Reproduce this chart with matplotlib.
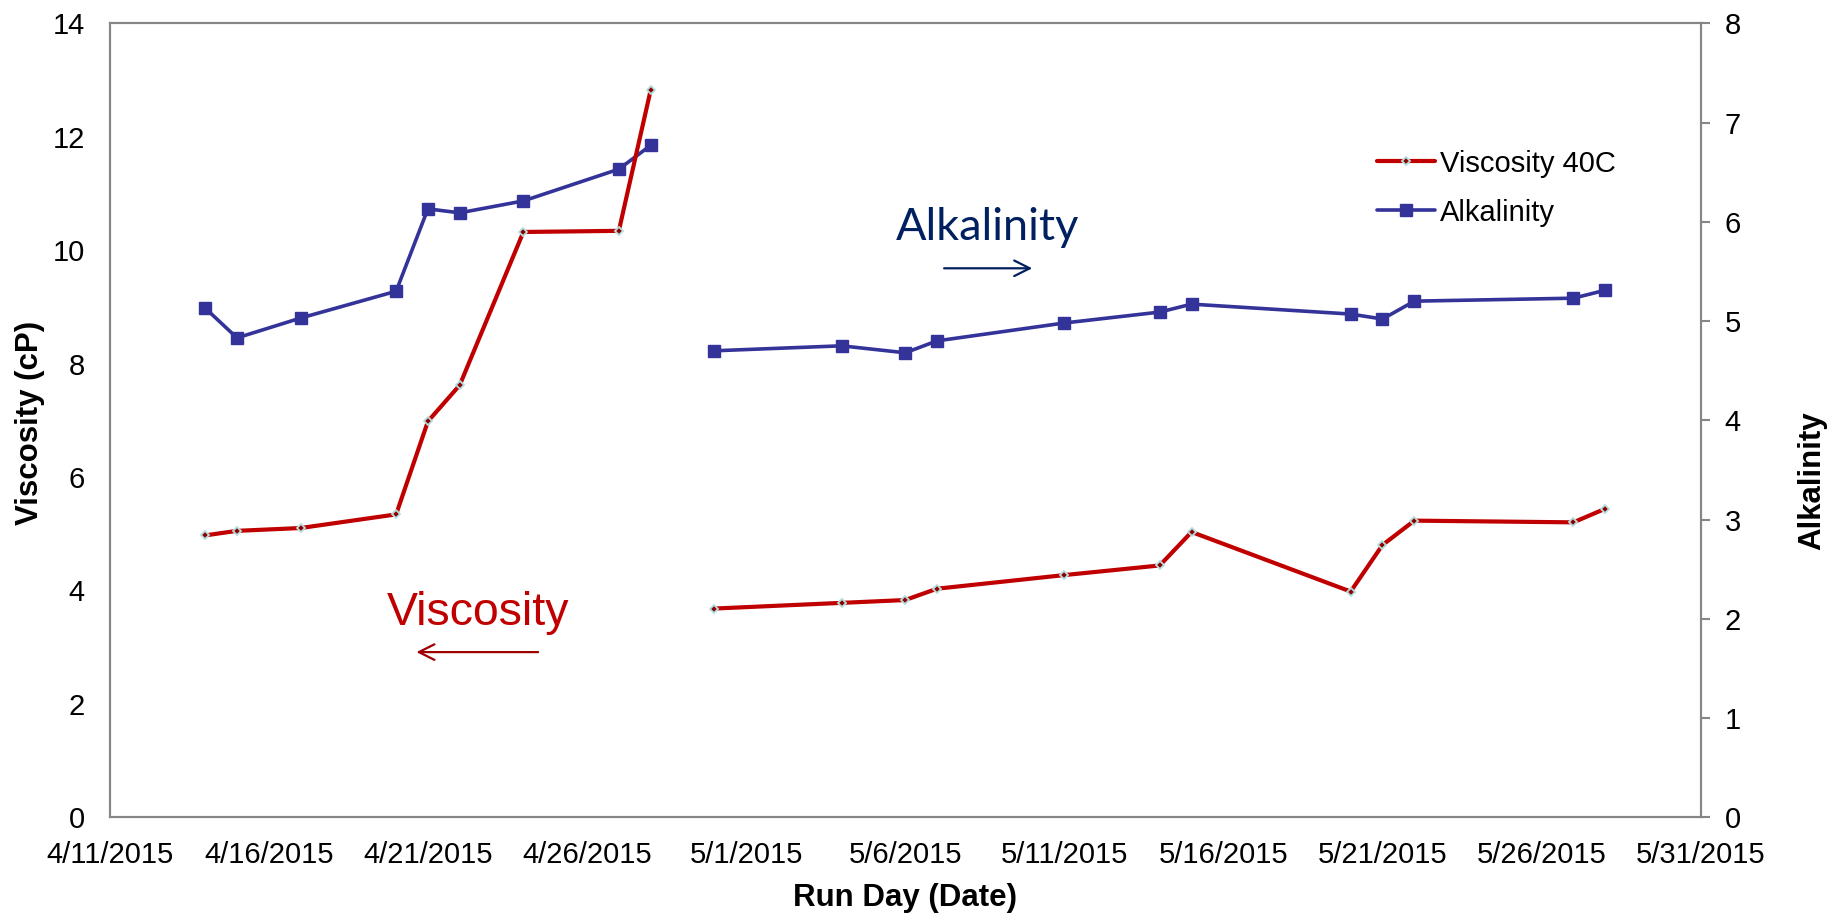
import numpy as np
import pandas as pd
import matplotlib
matplotlib.use("Agg")
import matplotlib.pyplot as plt

plt.rcParams['font.family'] = ['Liberation Sans', 'DejaVu Sans']

# run days (4/29 left empty so the lines break there)
run_days = ["2015-04-14", "2015-04-15", "2015-04-17", "2015-04-20", "2015-04-21",
            "2015-04-22", "2015-04-24", "2015-04-27", "2015-04-28", "2015-04-29",
            "2015-04-30", "2015-05-04", "2015-05-06", "2015-05-07", "2015-05-11",
            "2015-05-14", "2015-05-15", "2015-05-20", "2015-05-21", "2015-05-22",
            "2015-05-27", "2015-05-28"]
viscosity = [4.97, 5.05, 5.10, 5.34, 6.98, 7.62, 10.32, 10.34, 12.82, np.nan,
             3.68, 3.78, 3.83, 4.03, 4.27, 4.44, 5.03, 3.98, 4.80, 5.23, 5.20, 5.44]
alkalinity = [5.13, 4.83, 5.03, 5.30, 6.13, 6.09, 6.21, 6.53, 6.77, np.nan,
              4.70, 4.75, 4.68, 4.80, 4.98, 5.09, 5.17, 5.07, 5.02, 5.20, 5.23, 5.31]

tick_dates = ["2015-04-11", "2015-04-16", "2015-04-21", "2015-04-26", "2015-05-01",
              "2015-05-06", "2015-05-11", "2015-05-16", "2015-05-21", "2015-05-26",
              "2015-05-31"]
tick_labels = ["4/11/2015", "4/16/2015", "4/21/2015", "4/26/2015", "5/1/2015",
               "5/6/2015", "5/11/2015", "5/16/2015", "5/21/2015", "5/26/2015",
               "5/31/2015"]
visc_ticks = [0, 2, 4, 6, 8, 10, 12, 14]
alk_ticks = [0, 1, 2, 3, 4, 5, 6, 7, 8]

x = pd.to_datetime(run_days)
xt = pd.to_datetime(tick_dates)

RED = '#C00000'
BLUE = '#333399'
NAVY = '#002060'
GRAY = '#868686'

fig = plt.figure(figsize=(18.35, 9.16), dpi=100)
ax = fig.add_axes([0.0598, 0.1078, 0.867, 0.8668])
ax2 = ax.twinx()
# viscosity drawn on top of alkalinity
ax.set_zorder(ax2.get_zorder() + 1)
ax.patch.set_visible(False)

ax2.plot(x, alkalinity, color=BLUE, lw=2.6, marker='s', ms=8.5,
         mfc=BLUE, mec=BLUE, solid_capstyle='round', solid_joinstyle='round',
         label='Alkalinity')
ax.plot(x, viscosity, color=RED, lw=3.0, marker='D', ms=4.5,
        mfc='#8B0000', mec='#B5DDDD', mew=1.3, solid_capstyle='round',
        solid_joinstyle='round', label='Viscosity 40C')

ax.set_xlim(xt[0], xt[-1])
ax.set_ylim(0, 14)
ax2.set_ylim(0, 8)
ax.set_xticks(xt)
ax.set_xticklabels(tick_labels)
ax.set_yticks(visc_ticks)
ax2.set_yticks(alk_ticks)

for a in (ax, ax2):
    for s in a.spines.values():
        s.set_color(GRAY)
        s.set_linewidth(1.5)
ax.tick_params(axis='x', length=0, pad=17, labelsize=21)
ax.tick_params(axis='y', length=0, pad=18, labelsize=21)
ax2.tick_params(axis='y', length=6.3, width=1.5, color=GRAY, pad=11, labelsize=21)

ax.set_ylabel('Viscosity (cP)', fontsize=22.5, fontweight='bold')
ax.yaxis.set_label_coords(-0.0407, 0.496)
ax2.set_ylabel('Alkalinity', fontsize=22.5, fontweight='bold')
ax2.yaxis.set_label_coords(1.0608, 0.424)
ax.set_xlabel('Run Day (Date)', fontsize=22.5, fontweight='bold', va='center')
ax.xaxis.set_label_coords(0.50, -0.1016)

# side markers pointing at each series' axis
ax.text(0.2316, 0.242, 'Viscosity', transform=ax.transAxes, color=RED,
        fontsize=33.5, ha='center', va='baseline')
ax.annotate('', xy=(0.191, 0.208), xytext=(0.271, 0.208), xycoords='axes fraction',
            arrowprops=dict(arrowstyle='->', color='#A00000', lw=1.6, mutation_scale=28))
ax.text(0.5518, 0.727, 'Alkalinity', transform=ax.transAxes, color=NAVY,
        fontsize=32.5, ha='center', va='baseline', family='Lato')
ax.annotate('', xy=(0.5816, 0.6914), xytext=(0.5227, 0.6914), xycoords='axes fraction',
            arrowprops=dict(arrowstyle='->', color=NAVY, lw=1.6, mutation_scale=28))

h1, l1 = ax.get_legend_handles_labels()
h2, l2 = ax2.get_legend_handles_labels()
ax.legend(h1 + h2, l1 + l2, loc='center left', bbox_to_anchor=(0.7966, 0.7925),
          frameon=False, fontsize=21, handlelength=2.0, handletextpad=0.15,
          labelspacing=0.72, borderpad=0, borderaxespad=0)

fig.savefig('out.png', dpi=100)
